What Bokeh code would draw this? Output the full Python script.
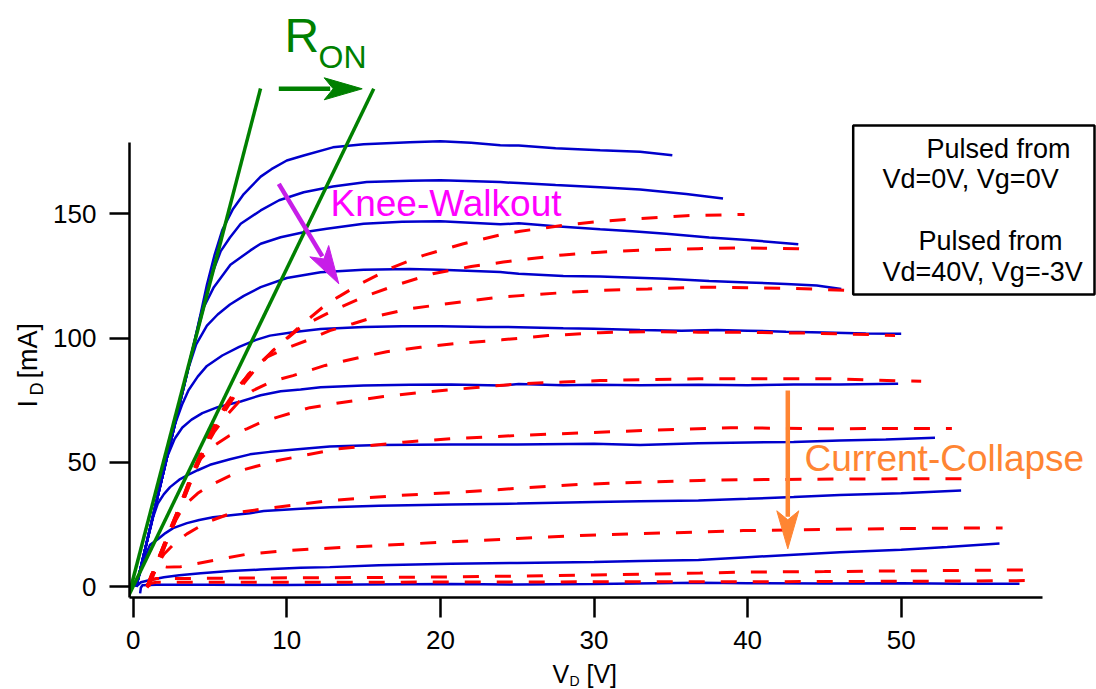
import math
from bokeh.plotting import figure
from bokeh.layouts import column, row
from bokeh.models import Range1d, FixedTicker, Label, BoxAnnotation
from bokeh.embed import file_html
from bokeh.resources import INLINE

# ---------------- data: pulsed from Vd=0V, Vg=0V (blue, solid) ----------------
b1_v = [0.2, 1.0, 2.0, 3.0, 4.0, 4.4, 4.8, 5.3, 5.8, 6.5, 7.2, 8.3, 9.0, 10.0, 11.1, 13.0, 15.0, 18.0, 20.0, 22.0, 23.9, 25.1, 27.5, 30.4, 33.0, 35.1]
b1_i = [0.0, 20.8, 46.8, 72.8, 99.0, 110.0, 121.5, 133.5, 143.5, 152.0, 158.0, 165.0, 168.0, 171.5, 173.5, 176.8, 178.0, 178.8, 179.2, 178.6, 177.6, 177.5, 176.4, 175.6, 175.0, 173.6]
b2_v = [0.2, 1.0, 2.0, 3.0, 4.0, 4.4, 4.8, 5.2, 5.7, 6.3, 7.0, 8.3, 9.5, 11.1, 13.0, 15.2, 18.0, 20.0, 23.9, 25.1, 27.5, 30.4, 33.0, 36.0, 38.4]
b2_i = [0.0, 20.8, 46.8, 72.8, 98.8, 109.5, 118.5, 127.0, 135.0, 140.5, 146.0, 151.4, 155.5, 158.7, 161.0, 162.8, 163.3, 163.5, 162.8, 162.4, 161.6, 160.7, 159.8, 158.0, 156.2]
b3_v = [0.2, 1.0, 2.0, 3.0, 4.0, 4.6, 5.25, 6.33, 7.63, 8.3, 9.6, 11.1, 12.6, 15.0, 17.5, 20.0, 23.9, 25.1, 27.5, 30.4, 32.5, 34.7, 37.5, 40.0, 43.3]
b3_i = [0.0, 20.8, 46.8, 72.8, 98.5, 112.5, 120.5, 129.5, 135.3, 138.0, 140.6, 142.6, 144.0, 146.0, 146.8, 147.0, 145.8, 146.2, 145.0, 143.8, 143.0, 142.0, 140.5, 139.5, 137.8]
b4_v = [0.2, 1.0, 2.0, 3.0, 3.6, 4.1, 4.8, 5.5, 6.3, 7.2, 8.3, 10.0, 12.2, 15.0, 18.0, 20.0, 23.9, 25.1, 28.0, 30.4, 34.7, 37.5, 40.0, 42.5, 44.5, 46.1]
b4_i = [0.0, 20.8, 46.8, 72.8, 88.0, 97.5, 105.0, 109.5, 113.5, 117.0, 120.5, 124.2, 126.5, 127.5, 127.8, 127.5, 126.6, 125.9, 125.0, 124.8, 123.9, 123.0, 122.4, 121.8, 121.2, 119.8]
b5_v = [0.2, 1.0, 2.0, 2.7, 3.2, 3.6, 4.2, 4.8, 5.8, 6.9, 8.0, 8.9, 10.5, 12.2, 15.0, 17.5, 20.0, 23.0, 25.1, 28.0, 30.0, 33.0, 35.7, 38.0, 40.0, 42.5, 45.0, 47.7, 50.0]
b5_i = [0.0, 20.8, 46.8, 65.0, 73.5, 79.0, 84.5, 88.8, 93.0, 96.5, 99.3, 101.0, 102.5, 103.7, 104.5, 104.8, 104.8, 104.5, 104.4, 104.0, 103.8, 103.3, 103.0, 103.3, 103.0, 102.6, 102.3, 101.9, 101.8]
b6_v = [0.2, 1.0, 1.7, 2.2, 2.7, 3.2, 3.8, 4.5, 5.5, 7.0, 8.3, 9.6, 10.9, 12.2, 15.0, 18.0, 20.7, 23.9, 25.1, 28.0, 30.0, 33.0, 36.8, 40.0, 43.0, 46.0, 49.8]
b6_i = [0.0, 20.8, 39.0, 52.0, 59.5, 64.0, 67.2, 69.8, 72.2, 74.5, 77.0, 78.6, 79.3, 80.2, 80.9, 81.2, 81.3, 80.9, 81.5, 81.0, 81.2, 81.0, 81.2, 81.0, 81.3, 81.3, 81.6]
b7_v = [0.2, 0.8, 1.3, 1.6, 2.0, 2.4, 3.0, 3.6, 4.2, 5.0, 6.3, 7.6, 8.9, 10.9, 12.8, 16.0, 20.7, 25.0, 30.0, 33.0, 36.8, 40.0, 43.0, 46.0, 49.0, 52.2]
b7_i = [0.0, 15.5, 28.0, 33.4, 37.2, 40.0, 43.0, 45.0, 46.8, 49.0, 51.2, 53.2, 54.2, 55.4, 56.4, 57.0, 57.2, 57.2, 57.5, 57.0, 57.7, 58.0, 58.2, 58.8, 59.2, 59.9]
b8_v = [0.2, 0.6, 0.9, 1.1, 1.6, 2.1, 2.6, 3.5, 4.3, 5.2, 6.5, 7.6, 8.5, 10.9, 12.8, 16.0, 20.7, 25.0, 30.0, 33.0, 36.8, 40.0, 43.0, 46.0, 50.0, 53.9]
b8_i = [0.0, 9.0, 14.0, 16.8, 19.0, 21.5, 23.5, 25.5, 26.8, 27.9, 28.8, 29.5, 30.4, 31.3, 31.9, 32.5, 33.0, 33.4, 34.0, 34.3, 34.6, 35.3, 36.0, 36.8, 37.5, 38.6]
b9_v = [0.2, 0.5, 1.1, 2.0, 3.0, 4.4, 6.3, 8.3, 10.9, 12.8, 16.0, 20.7, 25.0, 30.0, 33.0, 36.8, 40.0, 43.3, 46.0, 50.0, 53.0, 56.4]
b9_i = [0.0, 1.7, 2.6, 3.7, 4.5, 5.3, 6.2, 6.8, 7.5, 7.8, 8.6, 9.2, 9.5, 9.9, 10.3, 10.7, 11.8, 12.9, 13.8, 14.8, 15.9, 17.3]
b10_v = [0.45, 0.5, 0.6, 1.5, 5.0, 10.0, 15.0, 20.7, 25.0, 30.0, 36.8, 40.0, 45.0, 50.0, 54.0, 57.7]
b10_i = [-2.8, -0.5, 0.5, 0.7, 0.7, 0.6, 0.8, 1.0, 0.8, 1.0, 1.5, 1.3, 1.2, 1.3, 1.1, 1.1]

# ---------------- data: pulsed from Vd=40V, Vg=-3V (red, dashed) ----------------
r1_v = [0.9, 1.5, 2.2, 3.0, 3.8, 4.7, 5.7, 6.9, 8.0, 9.3, 11.0, 12.6, 13.5, 14.8, 16.9, 18.9, 21.5, 24.0, 25.2, 28.3, 30.5, 32.6, 36.0, 39.8]
r1_i = [0.0, 9.0, 20.0, 32.0, 45.0, 58.0, 70.0, 81.0, 88.5, 96.0, 105.5, 113.8, 117.1, 121.9, 128.5, 133.3, 138.0, 141.7, 143.0, 145.7, 147.0, 148.0, 149.3, 149.8]
r2_v = [1.0, 1.6, 2.3, 3.1, 3.9, 4.8, 5.8, 6.9, 7.9, 9.1, 10.9, 13.0, 15.2, 17.4, 19.5, 22.0, 24.1, 25.2, 28.0, 30.4, 33.5, 36.8, 40.0, 43.3, 44.3]
r2_i = [0.0, 9.0, 20.0, 32.0, 45.0, 57.5, 69.0, 79.5, 87.0, 95.0, 104.4, 111.1, 117.1, 121.9, 125.9, 128.8, 130.6, 131.5, 133.5, 134.6, 135.5, 136.0, 136.3, 136.0, 135.5]
r3_v = [0.9, 1.5, 2.2, 3.0, 3.8, 4.6, 5.5, 6.5, 7.5, 8.7, 10.0, 11.3, 12.8, 14.3, 16.0, 18.0, 20.0, 22.1, 23.9, 25.2, 28.0, 30.4, 33.5, 36.8, 40.0, 43.0, 46.4]
r3_i = [0.0, 9.0, 19.5, 31.5, 44.5, 56.5, 67.0, 77.0, 85.5, 92.3, 96.0, 99.0, 103.0, 105.8, 109.0, 111.8, 113.5, 115.1, 116.5, 117.1, 118.3, 119.2, 119.8, 120.5, 120.3, 120.0, 119.2]
r4_v = [1.0, 1.6, 2.3, 3.1, 3.9, 4.6, 5.3, 6.1, 6.9, 7.8, 9.0, 10.4, 12.5, 14.8, 16.5, 18.7, 21.0, 24.0, 27.0, 30.4, 33.5, 36.8, 40.0, 44.0, 48.1, 49.6]
r4_i = [0.0, 9.0, 20.0, 32.0, 44.5, 55.0, 62.5, 69.0, 74.5, 78.9, 82.5, 84.9, 89.0, 92.3, 94.5, 96.3, 97.8, 99.3, 101.0, 102.2, 102.6, 102.4, 102.3, 102.0, 101.4, 101.0]
r5_v = [0.9, 1.5, 2.2, 3.0, 3.7, 4.4, 5.2, 6.2, 7.4, 8.3, 9.4, 11.5, 13.7, 16.3, 18.5, 20.7, 23.0, 25.2, 28.0, 30.4, 33.5, 36.8, 40.0, 45.5, 50.0, 51.3]
r5_i = [0.0, 9.0, 20.0, 32.0, 43.0, 51.5, 56.5, 60.5, 63.5, 66.0, 68.2, 72.0, 74.2, 76.5, 78.0, 79.2, 80.5, 81.6, 82.3, 82.9, 83.3, 83.6, 83.6, 83.6, 82.8, 82.6]
r6_v = [1.0, 1.5, 2.2, 2.8, 3.3, 4.2, 5.0, 7.0, 9.4, 13.3, 17.6, 20.7, 25.0, 30.0, 34.0, 38.9, 42.0, 45.0, 49.0, 53.3]
r6_i = [0.0, 9.0, 19.0, 27.0, 32.5, 37.5, 40.7, 46.7, 50.7, 55.4, 58.1, 59.5, 60.8, 62.0, 63.0, 63.9, 63.7, 63.5, 63.6, 63.6]
r7_v = [0.9, 1.4, 2.0, 2.8, 3.5, 4.8, 6.3, 8.5, 12.8, 17.2, 20.7, 25.0, 29.1, 33.0, 36.9, 40.0, 44.0, 48.0, 51.0, 54.1]
r7_i = [0.0, 7.0, 13.0, 18.0, 21.2, 25.9, 29.3, 31.3, 34.6, 36.6, 37.8, 39.5, 41.1, 42.0, 42.7, 43.0, 43.2, 43.3, 43.4, 43.4]
r8_v = [0.9, 1.2, 1.6, 2.2, 3.1, 5.2, 7.4, 10.0, 12.0, 16.1, 20.0, 25.0, 29.1, 33.0, 36.9, 39.7, 45.0, 50.0, 53.5, 56.6]
r8_i = [0.0, 5.0, 8.5, 7.8, 8.0, 10.5, 13.0, 14.5, 15.2, 16.5, 17.8, 19.3, 20.5, 21.3, 21.9, 22.5, 23.0, 23.3, 23.5, 23.6]
r9_v = [0.9, 1.1, 1.5, 3.0, 5.0, 10.0, 15.0, 20.0, 25.0, 30.0, 36.9, 39.7, 45.0, 50.0, 54.0, 58.1]
r9_i = [0.0, 2.5, 3.2, 3.2, 3.3, 3.5, 3.6, 3.8, 4.2, 4.6, 5.4, 5.8, 6.0, 6.3, 6.5, 6.7]
r10_v = [0.9, 1.1, 1.5, 3.0, 5.0, 10.0, 15.0, 20.0, 25.0, 30.0, 35.0, 40.0, 45.0, 50.0, 54.0, 58.6]
r10_i = [-0.5, 1.2, 1.7, 1.7, 1.7, 1.7, 1.7, 1.8, 1.8, 1.9, 1.9, 1.9, 2.0, 2.1, 2.2, 2.4]

# R_ON guide lines (two fitted on-resistance lines)
ron1_v = [-0.29, 8.29]
ron1_i = [-3.6, 200.5]
ron2_v = [-0.29, 15.66]
ron2_i = [-3.6, 200.4]

x_ticks = [0, 10, 20, 30, 40, 50]
y_ticks = [0, 50, 100, 150]

blue_v = [b1_v, b2_v, b3_v, b4_v, b5_v, b6_v, b7_v, b8_v, b9_v, b10_v]
blue_i = [b1_i, b2_i, b3_i, b4_i, b5_i, b6_i, b7_i, b8_i, b9_i, b10_i]
red_v = [r1_v, r2_v, r3_v, r4_v, r5_v, r6_v, r7_v, r8_v, r9_v, r10_v]
red_i = [r1_i, r2_i, r3_i, r4_i, r5_i, r6_i, r7_i, r8_i, r9_i, r10_i]

# ---------------- layout ----------------
TOTAL_W, TOTAL_H = 1096, 689
LEFT_W = 48                 # strip holding the y-axis title
MAIN_H = 660                # main figure height; strip below holds x-axis title
MAIN_W = TOTAL_W - LEFT_W
ML = 81                     # frame left edge at page x = 129
FRAME_BOTTOM = 597          # page y of the x axis line
MB = MAIN_H - FRAME_BOTTOM
SX = 15.36                  # px per volt
SY = 2.484                  # px per mA
PX0, PY0 = 132.7, 586.0     # page position of (0 V, 0 mA)
X0 = -(PX0 - (LEFT_W + ML)) / SX
X1 = X0 + (MAIN_W - ML) / SX
Y0 = -(FRAME_BOTTOM - PY0) / SY
Y1 = Y0 + FRAME_BOTTOM / SY
BASE_FIX = 0.37             # label anchor correction (fraction of font size)

FONT = "Liberation Sans"
BLUE = "#0000cc"
RED = "#ff0000"
GREEN = "#008000"
PURPLE = "#c71ee8"
MAGENTA = "#ff00ff"
ORANGE = "#ff8533"


def vx(px):
    return (px - PX0) / SX


def iy(py):
    return (PY0 - py) / SY


p = figure(width=MAIN_W, height=MAIN_H, x_range=Range1d(X0, X1), y_range=Range1d(Y0, Y1),
           output_backend="svg", toolbar_location=None,
           min_border_left=ML, min_border_right=0, min_border_top=0, min_border_bottom=MB)
p.outline_line_color = None
p.grid.visible = False
p.background_fill_color = "white"
p.border_fill_color = "white"

p.xaxis.ticker = FixedTicker(ticks=x_ticks, minor_ticks=[])
p.yaxis.ticker = FixedTicker(ticks=y_ticks, minor_ticks=[])
p.xaxis.bounds = (X0, 59.2)
p.yaxis.bounds = (Y0, 178.9)
for ax in (p.xaxis, p.yaxis):
    ax.axis_line_width = 2.5
    ax.axis_line_color = "black"
    ax.major_tick_line_width = 2.5
    ax.major_tick_line_color = "black"
    ax.major_tick_in = 0
    ax.major_tick_out = 20
    ax.minor_tick_in = 0
    ax.minor_tick_out = 0
    ax.major_label_text_font = FONT
    ax.major_label_text_font_size = "26px"
    ax.major_label_text_color = "black"
p.xaxis.major_label_standoff = 13
p.yaxis.major_label_standoff = 13

# curves
for xs, ys in zip(blue_v, blue_i):
    p.line(xs, ys, line_color=BLUE, line_width=2.5)
for xs, ys in zip(red_v, red_i):
    p.line(xs, ys, line_color=RED, line_width=3, line_dash="16 16")

p.line(ron1_v, ron1_i, line_color=GREEN, line_width=3.5)
p.line(ron2_v, ron2_i, line_color=GREEN, line_width=3.5)


def arrow(x0, y0, x1, y1, color, lw=4.5, L=38.0, Wh=11.0, N=9.0):
    dxp = (x1 - x0) * SX
    dyp = (y1 - y0) * SY
    d = math.hypot(dxp, dyp)
    ux, uy = dxp / d, dyp / d
    px, py = -uy, ux
    back = L - N + 3
    p.segment(x0=[x0], y0=[y0], x1=[x1 - back * ux / SX], y1=[y1 - back * uy / SY],
              line_color=color, line_width=lw)
    pts = [(0, 0), (-L * ux + Wh * px, -L * uy + Wh * py), (-(L - N) * ux, -(L - N) * uy),
           (-L * ux - Wh * px, -L * uy - Wh * py)]
    p.patch([x1 + a / SX for a, b in pts], [y1 + b / SY for a, b in pts],
            fill_color=color, line_color=color, line_width=1)


arrow(vx(278.3), iy(88.3), vx(361.7), iy(88.3), GREEN)
arrow(vx(278.3), iy(183.3), vx(338.3), iy(283.3), PURPLE)
arrow(vx(787.3), iy(390.0), vx(787.3), iy(548.3), ORANGE)


def label_at(fig, x, y, text, size, color="black", angle=0.0):
    fig.add_layout(Label(x=x, y=y, text=text, text_font=FONT, text_font_size=f"{size}px",
                         text_color=color, text_align="left", text_baseline="alphabetic",
                         angle=angle))


def plabel(px, baseline, text, size, color="black"):
    # place a label in the main plot by page pixel position of its left edge / baseline
    label_at(p, vx(px), iy(baseline - BASE_FIX * size), text, size, color)


plabel(284, 53, "R", 48, GREEN)
plabel(318, 68, "ON", 32, GREEN)
plabel(330, 217, "Knee-Walkout", 37, MAGENTA)
plabel(804, 471.7, "Current-Collapse", 37, ORANGE)

# legend
p.add_layout(BoxAnnotation(left=vx(852.7), right=vx(1094), top=iy(125), bottom=iy(294),
                           fill_color="white", fill_alpha=1.0,
                           line_color="black", line_width=2.5, line_alpha=1.0))
p.segment(x0=[vx(863.3)], y0=[iy(147.7)], x1=[vx(912.7)], y1=[iy(147.7)],
          line_color=BLUE, line_width=2.5)
p.segment(x0=[vx(863.3)], y0=[iy(241.7)], x1=[vx(911)], y1=[iy(241.7)],
          line_color=RED, line_width=3, line_dash="16 16")
plabel(926, 158.3, "Pulsed from", 27)
plabel(882, 188.3, "Vd=0V, Vg=0V", 27)
plabel(918, 250, "Pulsed from", 27)
plabel(882, 281.7, "Vd=40V, Vg=-3V", 27)

# ---------------- y-axis title strip (frame spans same rows as the main frame) ----------------
left = figure(width=LEFT_W, height=MAIN_H, x_range=Range1d(0, LEFT_W), y_range=Range1d(0, FRAME_BOTTOM),
              output_backend="svg", toolbar_location=None,
              x_axis_location=None, y_axis_location=None,
              min_border_left=0, min_border_right=0, min_border_top=0, min_border_bottom=MB)
left.outline_line_color = None
left.grid.visible = False
ROT = math.pi / 2
label_at(left, 37.5 - BASE_FIX * 27, FRAME_BOTTOM - 407, "I", 27, angle=ROT)
label_at(left, 43.0 - BASE_FIX * 18, FRAME_BOTTOM - 395, "D", 18, angle=ROT)
label_at(left, 37.5 - BASE_FIX * 27, FRAME_BOTTOM - 378, "[mA]", 27, angle=ROT)

# ---------------- x-axis title strip ----------------
BOT_H = TOTAL_H - MAIN_H
bottom = figure(width=TOTAL_W, height=BOT_H, x_range=Range1d(0, TOTAL_W), y_range=Range1d(0, BOT_H),
                output_backend="svg", toolbar_location=None,
                x_axis_location=None, y_axis_location=None,
                min_border_left=0, min_border_right=0, min_border_top=0, min_border_bottom=0)
bottom.outline_line_color = None
bottom.grid.visible = False
label_at(bottom, 552, TOTAL_H - (683.2 - BASE_FIX * 25), "V", 25)
label_at(bottom, 569, TOTAL_H - (685.5 - BASE_FIX * 14), "D", 14)
label_at(bottom, 586, TOTAL_H - (683.2 - BASE_FIX * 25), "[V]", 25)

layout = column(row(left, p, spacing=0), bottom, spacing=0)
open("out.html", "w").write(file_html(layout, INLINE))
